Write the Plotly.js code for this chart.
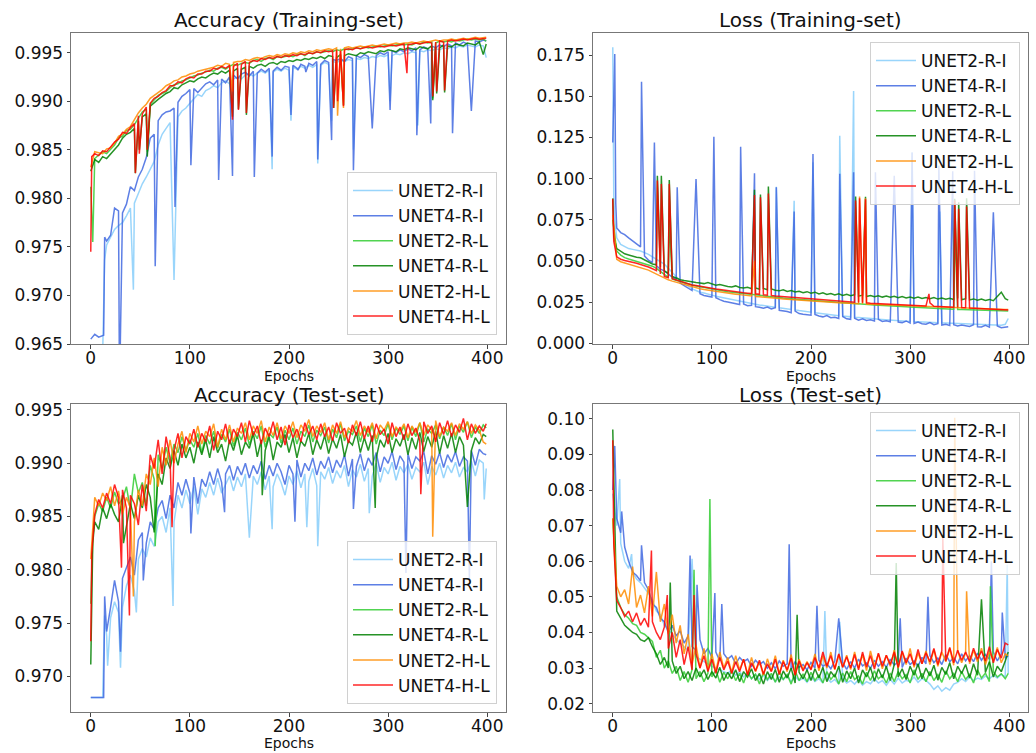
<!DOCTYPE html>
<html>
<head>
<meta charset="utf-8">
<script src="https://cdn.plot.ly/plotly-3.0.1.min.js"></script>
<style>
  html, body { margin: 0; padding: 0; background: #fff; }
  #chart { width: 1036px; height: 753px; }
</style>
</head>
<body>
<div id="chart"></div>
<script>
// Sampled epochs (every 4th epoch plus the last one)
const EPOCHS = [0,4,8,12,16,20,24,28,32,36,40,44,48,52,56,60,64,68,72,76,80,84,88,92,96,100,104,108,112,116,120,124,128,132,136,140,144,148,152,156,160,164,168,172,176,180,184,188,192,196,200,204,208,212,216,220,224,228,232,236,240,244,248,252,256,260,264,268,272,276,280,284,288,292,296,300,304,308,312,316,320,324,328,332,336,340,344,348,352,356,360,364,368,372,376,380,384,388,392,396,399];

const MODELS = ['UNET2-R-I','UNET4-R-I','UNET2-R-L','UNET4-R-L','UNET2-H-L','UNET4-H-L'];
const COLORS = ['#87CEFA','#4169E1','#32CD32','#008000','#FF8C00','#FF0000'];

// ---------- Accuracy (Training-set) ----------
const accTrain_U2RI = [.9620,.9630,.9635,.9640,.9752,.9760,.9768,.9772,.9775,.9782,
.9790,.9795,.9805,.9815,.9822,.9830,.9838,.9855,.9866,.9872,
.9878,.9875,.9884,.9890,.9893,.9898,.9903,.9907,.9905,.9911,
.9913,.9916,.9914,.9919,.9921,.9918,.9923,.9925,.9923,.9927,
.9928,.9926,.9929,.9931,.9929,.9932,.9930,.9933,.9931,.9934,
.9932,.9935,.9933,.9936,.9934,.9937,.9935,.9938,.9937,.9940,
.9938,.9941,.9940,.9942,.9941,.9943,.9942,.9944,.9943,.9945,
.9944,.9946,.9945,.9947,.9946,.9948,.9947,.9949,.9948,.9950,
.9949,.9951,.9950,.9952,.9951,.9953,.9952,.9954,.9953,.9955,
.9954,.9956,.9955,.9957,.9956,.9958,.9957,.9956,.9958,.9957,.9945];
const accTrain_U4RI = [.9655,.9660,.9657,.9659,.9756,.9762,.9790,.9787,.9785,.9794,
.9812,.9808,.9822,.9830,.9842,.9862,.9866,.9880,.9886,.9889,
.9890,.9893,.9899,.9905,.9908,.9912,.9913,.9909,.9914,.9918,
.9920,.9917,.9922,.9923,.9919,.9925,.9927,.9923,.9928,.9930,
.9926,.9931,.9929,.9933,.9930,.9934,.9931,.9935,.9932,.9936,
.9935,.9937,.9934,.9938,.9936,.9939,.9937,.9941,.9938,.9942,
.9940,.9943,.9942,.9944,.9941,.9946,.9944,.9947,.9945,.9948,
.9946,.9949,.9947,.9950,.9948,.9951,.9952,.9950,.9953,.9951,
.9954,.9952,.9955,.9953,.9956,.9954,.9957,.9955,.9958,.9956,
.9959,.9957,.9960,.9958,.9961,.9959,.9960,.9962,.9961,.9963,.9962];
const accTrain_U2RL = [.9812,.9841,.9845,.9848,.9846,.9851,.9855,.9862,.9864,.9870,
.9871,.9876,.9882,.9889,.9892,.9897,.9901,.9906,.9908,.9910,
.9914,.9917,.9918,.9921,.9922,.9924,.9926,.9927,.9929,.9930,
.9932,.9931,.9934,.9935,.9933,.9936,.9938,.9937,.9939,.9940,
.9939,.9942,.9943,.9941,.9944,.9945,.9943,.9946,.9945,.9946,
.9947,.9946,.9948,.9949,.9947,.9950,.9949,.9951,.9950,.9951,
.9952,.9951,.9953,.9952,.9954,.9953,.9954,.9955,.9954,.9956,
.9955,.9956,.9957,.9956,.9957,.9958,.9957,.9958,.9959,.9958,
.9959,.9958,.9960,.9959,.9961,.9960,.9961,.9960,.9962,.9961,
.9962,.9961,.9963,.9962,.9963,.9964,.9963,.9964,.9963,.9964,.9962];
const accTrain_U4RL = [.9828,.9840,.9837,.9843,.9841,.9846,.9850,.9855,.9862,.9866,
.9868,.9872,.9880,.9884,.9887,.9895,.9899,.9902,.9905,.9908,
.9910,.9914,.9913,.9917,.9919,.9921,.9920,.9923,.9925,.9924,
.9927,.9929,.9928,.9931,.9929,.9932,.9931,.9934,.9933,.9935,
.9936,.9934,.9937,.9938,.9936,.9939,.9940,.9938,.9941,.9940,
.9942,.9941,.9943,.9942,.9944,.9943,.9945,.9944,.9946,.9944,
.9947,.9946,.9945,.9948,.9947,.9949,.9948,.9947,.9950,.9949,
.9951,.9950,.9949,.9952,.9951,.9953,.9952,.9951,.9954,.9953,
.9955,.9954,.9953,.9956,.9955,.9954,.9957,.9956,.9955,.9958,
.9957,.9956,.9959,.9958,.9957,.9960,.9959,.9958,.9961,.9948,.9959];
const accTrain_U2HL = [.9832,.9848,.9847,.9846,.9851,.9852,.9857,.9864,.9866,.9871,
.9874,.9881,.9888,.9893,.9897,.9903,.9906,.9909,.9912,.9916,
.9918,.9921,.9922,.9925,.9926,.9928,.9929,.9931,.9932,.9933,
.9934,.9935,.9937,.9936,.9939,.9938,.9940,.9941,.9941,.9943,
.9942,.9944,.9945,.9944,.9946,.9947,.9946,.9948,.9947,.9949,
.9948,.9950,.9949,.9951,.9950,.9952,.9951,.9953,.9952,.9953,
.9954,.9953,.9955,.9954,.9955,.9956,.9955,.9956,.9957,.9956,
.9957,.9958,.9957,.9958,.9959,.9958,.9959,.9960,.9959,.9960,
.9960,.9961,.9960,.9961,.9962,.9961,.9962,.9963,.9962,.9963,
.9963,.9964,.9963,.9964,.9965,.9964,.9965,.9966,.9965,.9966,.9966];
const accTrain_U4HL = [.9745,.9846,.9844,.9849,.9848,.9853,.9858,.9861,.9868,.9867,
.9873,.9877,.9885,.9887,.9894,.9898,.9903,.9905,.9909,.9911,
.9916,.9916,.9920,.9919,.9923,.9925,.9924,.9928,.9928,.9931,
.9931,.9934,.9933,.9936,.9934,.9937,.9936,.9939,.9938,.9941,
.9940,.9942,.9941,.9944,.9943,.9945,.9944,.9946,.9945,.9947,
.9946,.9948,.9947,.9949,.9948,.9950,.9949,.9951,.9950,.9952,
.9951,.9952,.9953,.9952,.9953,.9954,.9953,.9955,.9954,.9955,
.9956,.9955,.9956,.9957,.9956,.9957,.9958,.9957,.9958,.9959,
.9958,.9959,.9960,.9959,.9960,.9961,.9960,.9961,.9962,.9961,
.9962,.9963,.9962,.9963,.9964,.9963,.9964,.9965,.9964,.9965,.9965];
// single-epoch events [epoch, value]
const accTrainEv_U2RI = [[14,.9737],[43,.9706],[84,.9716],[183,.9830],[202,.9880],[229,.9836],[243,.9880],[265,.9850],[302,.9900],[330,.9875]];
const accTrainEv_U4RI = [[13,.9659],[14,.9760],[29,.9600],[65,.9730],[85,.9791],[101,.9834],[129,.9819],[143,.9823],[165,.9822],[183,.9843],[202,.9886],[209,.9932],[217,.9930],[229,.9840],[243,.9860],[265,.9829],[284,.9872],[302,.9891],[329,.9865],[343,.9877],[365,.9867],[384,.9890]];
const accTrainEv_U2RL = [[2,.9755],[57,.9848],[345,.9903]];
const accTrainEv_U4RL = [[45,.9826],[49,.9850],[57,.9843],[143,.9884],[149,.9892],[157,.9886],[245,.9893],[255,.9896],[345,.9901],[349,.9908],[357,.9909]];
const accTrainEv_U2HL = [[143,.9910],[249,.9885],[255,.9893]];
const accTrainEv_U4HL = [[1,.9843],[45,.9826],[49,.9846],[57,.9850],[143,.9881],[149,.9891],[157,.9888],[245,.9893],[249,.9900],[255,.9895],[319,.9929],[345,.9905],[349,.9910],[357,.9911]];

// ---------- Loss (Training-set) ----------
const lossTrain_U2RI = [.1799,.0640,.0600,.0585,.0575,.0570,.0565,.0560,.0550,.0540,
.0525,.0510,.0495,.0480,.0455,.0430,.0410,.0380,.0365,.0345,
.0330,.0320,.0310,.0305,.0300,.0292,.0285,.0280,.0272,.0268,
.0262,.0258,.0252,.0248,.0245,.0240,.0236,.0232,.0230,.0226,
.0222,.0218,.0215,.0212,.0208,.0205,.0202,.0198,.0196,.0192,
.0188,.0185,.0182,.0178,.0176,.0172,.0170,.0167,.0165,.0162,
.0160,.0158,.0156,.0153,.0151,.0150,.0148,.0146,.0144,.0142,
.0140,.0138,.0137,.0135,.0134,.0132,.0131,.0130,.0128,.0127,
.0126,.0125,.0124,.0123,.0122,.0121,.0120,.0119,.0118,.0117,
.0116,.0115,.0114,.0113,.0112,.0111,.0110,.0110,.0109,.0115,.0150];
const lossTrain_U4RI = [.1220,.0700,.0672,.0660,.0640,.0620,.0600,.0585,.0530,.0505,
.0490,.0470,.0450,.0440,.0420,.0400,.0385,.0365,.0350,.0335,
.0320,.0312,.0300,.0290,.0285,.0280,.0276,.0265,.0255,.0250,
.0245,.0240,.0235,.0238,.0228,.0230,.0222,.0218,.0212,.0220,
.0208,.0215,.0200,.0198,.0192,.0185,.0195,.0180,.0176,.0172,
.0170,.0175,.0165,.0160,.0168,.0155,.0158,.0150,.0162,.0148,
.0145,.0152,.0140,.0148,.0138,.0142,.0135,.0145,.0132,.0136,
.0130,.0138,.0128,.0125,.0135,.0122,.0120,.0128,.0118,.0115,
.0125,.0112,.0118,.0110,.0115,.0108,.0112,.0105,.0110,.0108,
.0102,.0112,.0100,.0098,.0108,.0097,.0095,.0105,.0094,.0096,.0100];
const lossTrain_U2RL = [.0750,.0560,.0535,.0520,.0512,.0505,.0497,.0490,.0483,.0476,
.0468,.0455,.0435,.0415,.0400,.0390,.0382,.0374,.0368,.0360,
.0353,.0348,.0343,.0338,.0333,.0329,.0325,.0321,.0317,.0313,
.0310,.0306,.0303,.0300,.0297,.0294,.0291,.0289,.0286,.0284,
.0281,.0279,.0277,.0274,.0272,.0270,.0268,.0266,.0264,.0262,
.0260,.0258,.0256,.0254,.0252,.0250,.0249,.0247,.0245,.0243,
.0242,.0240,.0238,.0237,.0235,.0234,.0232,.0231,.0229,.0228,
.0226,.0225,.0224,.0222,.0221,.0220,.0218,.0217,.0216,.0215,
.0213,.0212,.0211,.0210,.0208,.0207,.0206,.0205,.0204,.0203,
.0202,.0201,.0200,.0199,.0198,.0197,.0196,.0195,.0194,.0193,.0195];
const lossTrain_U4RL = [.0880,.0575,.0560,.0543,.0536,.0528,.0522,.0519,.0505,.0492,
.0481,.0476,.0462,.0440,.0424,.0405,.0396,.0386,.0381,.0376,
.0373,.0369,.0366,.0362,.0368,.0361,.0352,.0356,.0349,.0345,
.0342,.0348,.0338,.0335,.0340,.0331,.0336,.0328,.0333,.0325,
.0330,.0322,.0318,.0325,.0314,.0320,.0311,.0316,.0307,.0313,
.0304,.0310,.0299,.0306,.0296,.0302,.0293,.0300,.0290,.0297,
.0288,.0295,.0286,.0292,.0284,.0290,.0282,.0288,.0280,.0286,
.0279,.0285,.0276,.0283,.0275,.0281,.0273,.0280,.0272,.0278,
.0270,.0277,.0268,.0275,.0267,.0273,.0265,.0272,.0264,.0270,
.0263,.0269,.0261,.0268,.0260,.0266,.0258,.0285,.0310,.0270,.0262];
const lossTrain_U2HL = [.0780,.0510,.0495,.0488,.0480,.0473,.0466,.0459,.0452,.0444,
.0432,.0420,.0406,.0395,.0385,.0377,.0370,.0362,.0355,.0348,
.0341,.0336,.0331,.0326,.0322,.0318,.0314,.0311,.0307,.0304,
.0301,.0298,.0295,.0292,.0289,.0287,.0284,.0282,.0279,.0277,
.0275,.0273,.0271,.0269,.0267,.0265,.0263,.0261,.0260,.0258,
.0256,.0255,.0253,.0252,.0250,.0249,.0247,.0246,.0245,.0243,
.0242,.0241,.0240,.0238,.0237,.0236,.0235,.0234,.0233,.0232,
.0231,.0230,.0229,.0228,.0227,.0226,.0225,.0224,.0223,.0222,
.0221,.0220,.0219,.0218,.0217,.0216,.0215,.0214,.0213,.0213,
.0212,.0211,.0210,.0210,.0209,.0208,.0207,.0207,.0206,.0205,.0205];
const lossTrain_U4HL = [.0877,.0525,.0510,.0503,.0498,.0492,.0486,.0478,.0471,.0463,
.0452,.0441,.0420,.0405,.0398,.0392,.0384,.0376,.0368,.0361,
.0354,.0350,.0345,.0341,.0336,.0333,.0329,.0326,.0322,.0318,
.0315,.0312,.0309,.0306,.0304,.0302,.0300,.0297,.0294,.0292,
.0290,.0287,.0286,.0283,.0281,.0279,.0277,.0275,.0273,.0271,
.0268,.0266,.0264,.0263,.0261,.0259,.0257,.0255,.0254,.0252,
.0251,.0249,.0247,.0246,.0245,.0243,.0242,.0241,.0239,.0238,
.0236,.0235,.0234,.0232,.0231,.0230,.0229,.0228,.0227,.0226,
.0245,.0224,.0223,.0221,.0220,.0219,.0218,.0217,.0216,.0215,
.0214,.0213,.0212,.0210,.0209,.0208,.0207,.0205,.0204,.0203,.0201];
const lossTrainEv_U2RI = [[1,.0900],[2,.0750],[165,.0950],[183,.0866],[202,.1100],[229,.1260],[243,.1532],[302,.1160],[330,.0800]];
const lossTrainEv_U4RI = [[2,.1758],[3,.0850],[29,.1589],[42,.1220],[65,.0948],[84,.0998],[102,.1254],[129,.1194],[143,.1032],[165,.0948],[183,.0800],[202,.1150],[229,.1030],[243,.1038],[265,.1038],[284,.1018],[302,.1159],[329,.1079],[343,.1045],[365,.1048],[384,.0796]];
const lossTrainEv_U2RL = [[57,.0750],[345,.0700]];
const lossTrainEv_U4RL = [[1,.0650],[45,.1018],[49,.1018],[57,.0992],[143,.0932],[149,.0904],[157,.0952],[245,.0891],[255,.0890],[345,.0877],[349,.0857],[357,.0880]];
const lossTrainEv_U2HL = [[143,.0500],[249,.0891],[255,.0880]];
const lossTrainEv_U4HL = [[1,.0620],[45,.0988],[49,.0968],[57,.0968],[143,.0900],[149,.0887],[157,.0910],[245,.0867],[249,.0880],[255,.0875],[319,.0300],[345,.0867],[349,.0817],[357,.0830]];

// ---------- Accuracy (Test-set) ----------
const accTest_U2RI = [.9680,.9680,.9680,.9680,.9738,.9755,.9770,.9760,.9765,.9785,
.9795,.9780,.9810,.9820,.9812,.9830,.9822,.9845,.9850,.9835,
.9858,.9845,.9870,.9858,.9875,.9862,.9878,.9852,.9876,.9868,
.9882,.9870,.9886,.9872,.9880,.9888,.9874,.9887,.9878,.9890,
.9876,.9888,.9880,.9892,.9875,.9888,.9878,.9890,.9882,.9870,
.9888,.9880,.9893,.9877,.9890,.9883,.9895,.9879,.9892,.9885,
.9896,.9881,.9893,.9886,.9898,.9878,.9894,.9887,.9899,.9883,
.9895,.9888,.9900,.9882,.9896,.9890,.9901,.9884,.9897,.9891,
.9899,.9885,.9896,.9892,.9901,.9880,.9897,.9889,.9900,.9886,
.9898,.9891,.9901,.9887,.9896,.9892,.9902,.9888,.9903,.9900,.9895];
const accTest_U4RI = [.9680,.9680,.9680,.9680,.9742,.9765,.9790,.9770,.9792,.9803,
.9812,.9795,.9828,.9835,.9825,.9845,.9838,.9858,.9865,.9848,
.9870,.9858,.9882,.9870,.9885,.9872,.9887,.9862,.9885,.9878,
.9892,.9880,.9895,.9882,.9890,.9898,.9884,.9897,.9889,.9900,
.9886,.9898,.9890,.9902,.9885,.9898,.9888,.9900,.9892,.9880,
.9898,.9890,.9903,.9887,.9900,.9893,.9905,.9889,.9902,.9895,
.9906,.9891,.9903,.9896,.9908,.9888,.9904,.9897,.9909,.9893,
.9905,.9898,.9910,.9892,.9906,.9900,.9911,.9894,.9907,.9901,
.9909,.9895,.9906,.9902,.9911,.9890,.9907,.9899,.9910,.9896,
.9908,.9901,.9911,.9897,.9906,.9902,.9912,.9898,.9913,.9909,.9908];
const accTest_U2RL = [.9768,.9850,.9862,.9855,.9868,.9858,.9873,.9862,.9866,.9878,
.9856,.9890,.9872,.9882,.9860,.9898,.9885,.9908,.9895,.9915,
.9900,.9918,.9910,.9925,.9912,.9922,.9915,.9928,.9910,.9926,
.9918,.9930,.9914,.9927,.9920,.9932,.9916,.9929,.9922,.9933,
.9917,.9930,.9923,.9935,.9915,.9928,.9924,.9934,.9919,.9931,
.9922,.9933,.9918,.9930,.9925,.9936,.9920,.9931,.9926,.9934,
.9919,.9932,.9924,.9937,.9921,.9930,.9927,.9935,.9920,.9933,
.9925,.9936,.9918,.9931,.9926,.9937,.9922,.9933,.9927,.9935,
.9921,.9934,.9925,.9938,.9920,.9932,.9928,.9936,.9923,.9934,
.9926,.9937,.9922,.9935,.9929,.9939,.9924,.9934,.9928,.9936,.9933];
const accTest_U4RL = [.9711,.9845,.9838,.9858,.9848,.9862,.9852,.9845,.9870,.9840,
.9862,.9848,.9870,.9858,.9880,.9868,.9835,.9890,.9880,.9905,
.9895,.9912,.9898,.9918,.9905,.9915,.9900,.9920,.9908,.9922,
.9905,.9925,.9910,.9918,.9902,.9922,.9912,.9926,.9908,.9920,
.9914,.9928,.9906,.9922,.9912,.9925,.9903,.9920,.9915,.9927,
.9910,.9924,.9905,.9921,.9916,.9928,.9908,.9922,.9913,.9926,
.9909,.9923,.9914,.9927,.9906,.9921,.9917,.9929,.9910,.9924,
.9912,.9926,.9905,.9922,.9915,.9928,.9910,.9923,.9916,.9927,
.9908,.9924,.9913,.9929,.9911,.9925,.9915,.9930,.9909,.9926,
.9914,.9928,.9910,.9925,.9917,.9931,.9912,.9924,.9918,.9927,.9925];
const accTest_U2HL = [.9810,.9868,.9860,.9872,.9865,.9878,.9860,.9874,.9852,.9868,
.9858,.9845,.9875,.9860,.9890,.9880,.9905,.9878,.9915,.9898,
.9922,.9900,.9918,.9930,.9910,.9928,.9920,.9935,.9918,.9930,
.9925,.9937,.9915,.9932,.9922,.9936,.9920,.9933,.9928,.9938,
.9922,.9935,.9928,.9940,.9920,.9934,.9926,.9938,.9923,.9935,
.9928,.9939,.9924,.9936,.9930,.9941,.9925,.9935,.9929,.9938,
.9922,.9936,.9928,.9939,.9924,.9933,.9930,.9940,.9926,.9935,
.9929,.9938,.9923,.9936,.9931,.9939,.9925,.9934,.9930,.9937,
.9924,.9935,.9929,.9938,.9926,.9936,.9931,.9940,.9925,.9934,
.9930,.9938,.9926,.9937,.9932,.9939,.9928,.9936,.9931,.9920,.9918];
const accTest_U4HL = [.9733,.9852,.9866,.9858,.9872,.9862,.9880,.9868,.9875,.9858,
.9870,.9862,.9842,.9880,.9855,.9908,.9895,.9922,.9890,.9925,
.9905,.9912,.9928,.9905,.9925,.9918,.9932,.9915,.9928,.9920,
.9935,.9912,.9930,.9922,.9937,.9918,.9932,.9925,.9938,.9920,
.9940,.9926,.9935,.9918,.9933,.9925,.9939,.9922,.9934,.9917,
.9936,.9924,.9932,.9920,.9938,.9927,.9935,.9922,.9937,.9925,
.9934,.9921,.9938,.9928,.9933,.9919,.9936,.9926,.9939,.9923,
.9935,.9920,.9937,.9927,.9932,.9918,.9938,.9925,.9934,.9922,
.9937,.9926,.9933,.9921,.9939,.9928,.9935,.9920,.9938,.9927,
.9940,.9925,.9936,.9929,.9942,.9922,.9937,.9928,.9935,.9930,.9937];
const accTestEv_U2RI = [[14,.9757],[17,.9710],[30,.9708],[46,.9760],[83,.9766],[160,.9830],[183,.9838],[218,.9840],[229,.9822],[281,.9853],[397,.9866]];
const accTestEv_U4RI = [[13,.9680],[14,.9775],[30,.9723],[53,.9790],[101,.9834],[135,.9854],[206,.9845],[265,.9857],[318,.9797],[382,.9791]];
const accTestEv_U2RL = [[2,.9830],[65,.9822]];
const accTestEv_U4RL = [[2,.9825],[33,.9825],[173,.9870],[287,.9858],[380,.9859]];
const accTestEv_U2HL = [[43,.9775],[345,.9831]];
const accTestEv_U4HL = [[1,.9815],[31,.9802],[39,.9757],[82,.9840],[333,.9871]];

// ---------- Loss (Test-set) ----------
const lossTest_U2RI = [.0790,.0700,.0650,.0600,.0580,.0570,.0550,.0540,.0525,.0510,
.0490,.0460,.0450,.0420,.0410,.0395,.0380,.0370,.0360,.0350,
.0340,.0332,.0325,.0318,.0310,.0305,.0300,.0295,.0290,.0285,
.0295,.0280,.0290,.0275,.0285,.0270,.0282,.0268,.0280,.0265,
.0278,.0262,.0275,.0268,.0280,.0262,.0276,.0265,.0272,.0260,
.0275,.0262,.0270,.0258,.0272,.0260,.0268,.0255,.0270,.0258,
.0265,.0255,.0268,.0252,.0262,.0256,.0270,.0258,.0265,.0252,
.0268,.0255,.0272,.0258,.0266,.0262,.0275,.0260,.0270,.0265,
.0255,.0240,.0250,.0235,.0245,.0238,.0255,.0260,.0270,.0262,
.0275,.0265,.0272,.0268,.0278,.0270,.0280,.0272,.0282,.0275,.0285];
const lossTest_U4RI = [.0800,.0720,.0680,.0640,.0600,.0570,.0560,.0545,.0540,.0520,
.0480,.0470,.0440,.0430,.0400,.0420,.0390,.0405,.0370,.0390,
.0360,.0350,.0380,.0340,.0355,.0330,.0345,.0320,.0340,.0325,
.0335,.0312,.0330,.0318,.0325,.0305,.0322,.0310,.0318,.0300,
.0315,.0298,.0320,.0305,.0312,.0296,.0318,.0302,.0310,.0295,
.0316,.0300,.0322,.0305,.0312,.0298,.0320,.0302,.0315,.0296,
.0318,.0300,.0325,.0306,.0314,.0299,.0322,.0305,.0318,.0302,
.0325,.0308,.0318,.0302,.0328,.0310,.0320,.0305,.0330,.0312,
.0335,.0315,.0328,.0310,.0338,.0318,.0330,.0312,.0340,.0320,
.0335,.0318,.0342,.0322,.0338,.0325,.0345,.0320,.0340,.0328,.0335];
const lossTest_U2RL = [.0720,.0500,.0470,.0450,.0440,.0425,.0420,.0400,.0395,.0385,
.0375,.0330,.0350,.0300,.0320,.0285,.0305,.0265,.0290,.0260,
.0295,.0270,.0290,.0262,.0285,.0275,.0295,.0260,.0288,.0270,
.0292,.0265,.0285,.0258,.0290,.0270,.0283,.0255,.0288,.0268,
.0285,.0260,.0290,.0268,.0282,.0255,.0292,.0265,.0284,.0262,
.0288,.0265,.0280,.0258,.0290,.0268,.0282,.0255,.0286,.0262,
.0290,.0268,.0278,.0255,.0288,.0265,.0292,.0270,.0280,.0258,
.0286,.0262,.0290,.0270,.0282,.0258,.0295,.0268,.0285,.0262,
.0290,.0265,.0282,.0260,.0292,.0270,.0285,.0262,.0290,.0268,
.0282,.0258,.0295,.0272,.0286,.0262,.0290,.0275,.0284,.0270,.0285];
const lossTest_U4RL = [.0970,.0460,.0440,.0420,.0410,.0400,.0395,.0380,.0375,.0385,
.0360,.0340,.0310,.0330,.0300,.0320,.0285,.0305,.0270,.0290,
.0265,.0300,.0275,.0295,.0268,.0290,.0272,.0302,.0265,.0288,
.0270,.0295,.0262,.0290,.0275,.0298,.0265,.0285,.0255,.0290,
.0268,.0296,.0260,.0292,.0272,.0300,.0258,.0288,.0270,.0295,
.0265,.0298,.0272,.0302,.0262,.0290,.0275,.0305,.0260,.0292,
.0270,.0300,.0258,.0295,.0275,.0302,.0263,.0298,.0272,.0305,
.0265,.0310,.0275,.0298,.0268,.0305,.0280,.0312,.0270,.0300,
.0278,.0308,.0266,.0302,.0282,.0315,.0270,.0305,.0285,.0310,
.0272,.0312,.0280,.0298,.0288,.0318,.0275,.0305,.0290,.0320,.0345];
const lossTest_U2HL = [.0720,.0530,.0500,.0520,.0480,.0585,.0470,.0505,.0455,.0530,
.0445,.0570,.0430,.0480,.0395,.0450,.0370,.0420,.0340,.0395,
.0310,.0365,.0300,.0355,.0295,.0340,.0290,.0345,.0300,.0330,
.0288,.0335,.0295,.0325,.0283,.0330,.0290,.0318,.0280,.0326,
.0292,.0335,.0285,.0322,.0290,.0338,.0282,.0325,.0296,.0318,
.0298,.0340,.0292,.0335,.0300,.0345,.0295,.0338,.0302,.0336,
.0296,.0345,.0300,.0338,.0293,.0348,.0305,.0340,.0298,.0336,
.0305,.0350,.0300,.0345,.0310,.0355,.0302,.0342,.0312,.0348,
.0310,.0352,.0305,.0345,.0318,.0355,.0308,.0348,.0315,.0342,
.0312,.0350,.0318,.0356,.0310,.0345,.0322,.0358,.0315,.0340,.0335];
const lossTest_U4HL = [.0940,.0490,.0470,.0445,.0460,.0430,.0455,.0420,.0440,.0415,
.0430,.0400,.0380,.0415,.0355,.0400,.0330,.0380,.0310,.0360,
.0295,.0340,.0300,.0335,.0290,.0325,.0285,.0330,.0295,.0320,
.0285,.0318,.0290,.0325,.0280,.0315,.0292,.0322,.0283,.0312,
.0290,.0325,.0282,.0318,.0295,.0328,.0280,.0320,.0292,.0315,
.0295,.0330,.0300,.0345,.0305,.0335,.0298,.0340,.0302,.0332,
.0300,.0338,.0295,.0345,.0303,.0335,.0297,.0342,.0305,.0336,
.0310,.0345,.0302,.0348,.0315,.0340,.0308,.0352,.0312,.0343,
.0318,.0355,.0310,.0348,.0320,.0358,.0315,.0350,.0322,.0345,
.0318,.0356,.0325,.0348,.0320,.0360,.0315,.0352,.0328,.0370,.0365];
const lossTestEv_U2RI = [[7,.0831],[19,.0620],[80,.0607],[214,.0460],[229,.0430],[398,.0590]];
const lossTestEv_U4RI = [[2,.0924],[9,.0740],[29,.0645],[78,.0616],[85,.0534],[103,.0511],[110,.0480],[178,.0648],[206,.0475],[228,.0440],[290,.0440],[318,.0500],[382,.0600],[393,.0456]];
const lossTestEv_U2RL = [[82,.0576],[98,.0775],[381,.0530]];
const lossTestEv_U4RL = [[58,.0540],[186,.0450],[286,.0595],[372,.0493]];
const lossTestEv_U2HL = [[345,.1003],[357,.0516]];
const lossTestEv_U4HL = [[1,.0650],[39,.0630],[55,.0505],[82,.0505],[333,.0669]];

// Combine sampled values with single-epoch events, ordered by epoch
function curve(base, events) {
  const evEpochs = new Set(events.map(p => p[0]));
  const pts = EPOCHS.map((e, i) => [e, base[i]])
    .filter(p => !evEpochs.has(p[0]))
    .concat(events)
    .sort((a, b) => a[0] - b[0]);
  return { x: pts.map(p => p[0]), y: pts.map(p => p[1]) };
}

const panels = [
  { xa: 'x',  ya: 'y',  lg: 'legend',
    base: [accTrain_U2RI, accTrain_U4RI, accTrain_U2RL, accTrain_U4RL, accTrain_U2HL, accTrain_U4HL],
    ev:   [accTrainEv_U2RI, accTrainEv_U4RI, accTrainEv_U2RL, accTrainEv_U4RL, accTrainEv_U2HL, accTrainEv_U4HL] },
  { xa: 'x2', ya: 'y2', lg: 'legend2',
    base: [lossTrain_U2RI, lossTrain_U4RI, lossTrain_U2RL, lossTrain_U4RL, lossTrain_U2HL, lossTrain_U4HL],
    ev:   [lossTrainEv_U2RI, lossTrainEv_U4RI, lossTrainEv_U2RL, lossTrainEv_U4RL, lossTrainEv_U2HL, lossTrainEv_U4HL] },
  { xa: 'x3', ya: 'y3', lg: 'legend3',
    base: [accTest_U2RI, accTest_U4RI, accTest_U2RL, accTest_U4RL, accTest_U2HL, accTest_U4HL],
    ev:   [accTestEv_U2RI, accTestEv_U4RI, accTestEv_U2RL, accTestEv_U4RL, accTestEv_U2HL, accTestEv_U4HL] },
  { xa: 'x4', ya: 'y4', lg: 'legend4',
    base: [lossTest_U2RI, lossTest_U4RI, lossTest_U2RL, lossTest_U4RL, lossTest_U2HL, lossTest_U4HL],
    ev:   [lossTestEv_U2RI, lossTestEv_U4RI, lossTestEv_U2RL, lossTestEv_U4RL, lossTestEv_U2HL, lossTestEv_U4HL] }
];

const traces = [];
panels.forEach(p => {
  MODELS.forEach((name, k) => {
    const c = curve(p.base[k], p.ev[k]);
    traces.push({
      type: 'scatter', mode: 'lines', name: name,
      x: c.x, y: c.y, xaxis: p.xa, yaxis: p.ya, legend: p.lg,
      legendgroup: p.lg + '_' + k,
      line: { color: COLORS[k], width: 1.5 },
      opacity: 0.85
    });
  });
});

const FONT = 'DejaVu Sans, Liberation Sans, sans-serif';
const W = 1036, H = 753;
const colL = [71 / W, 506 / W], colR = [593 / W, 1028 / W];
const rowT = [1 - 344 / H, 1 - 33 / H], rowB = [1 - 712 / H, 1 - 404 / H];

function xAxis(domain, anchor) {
  return {
    domain: domain, anchor: anchor, range: [-19.95, 418.95],
    tickvals: [0, 100, 200, 300, 400], ticks: 'outside', ticklen: 3.5, tickwidth: 1, tickcolor: '#444',
    ticklabelstandoff: -5,
    showline: true, mirror: true, linecolor: '#777', linewidth: 1,
    showgrid: false, zeroline: false,
    tickfont: { family: FONT, size: 17, color: '#111' }
  };
}
function yAxis(domain, anchor, range, tick0, dtick, fmt) {
  return {
    domain: domain, anchor: anchor, range: range, tick0: tick0, dtick: dtick, tickformat: fmt,
    ticks: 'outside', ticklen: 3.5, tickwidth: 1, tickcolor: '#444',
    showline: true, mirror: true, linecolor: '#777', linewidth: 1,
    showgrid: false, zeroline: false,
    tickfont: { family: FONT, size: 17, color: '#111' }
  };
}
function legendAt(x, y, yanchor) {
  return {
    x: x, y: y, xanchor: 'right', yanchor: yanchor, xref: 'paper', yref: 'paper',
    bgcolor: 'rgba(255,255,255,0.8)', bordercolor: '#d0d0d0', borderwidth: 1,
    font: { family: FONT, size: 17, color: '#111' },
    tracegroupgap: 2, itemwidth: 40, traceorder: 'normal'
  };
}
function label(text, x, y, size) {
  return { text: text, x: x, y: y, xref: 'paper', yref: 'paper', xanchor: 'center', yanchor: 'middle',
           showarrow: false, borderpad: 0, font: { family: FONT, size: size, color: '#111' } };
}

const cxL = (71 + 506) / 2 / W, cxR = (593 + 1028) / 2 / W;
const layout = {
  width: W, height: H,
  margin: { l: 0, r: 0, t: 0, b: 0 },
  paper_bgcolor: '#fff', plot_bgcolor: '#fff',
  font: { family: FONT, color: '#111' },
  xaxis:  xAxis(colL, 'y'),
  yaxis:  yAxis(rowT, 'x',  [0.965, 0.99703], 0.965, 0.005, '.3f'),
  xaxis2: xAxis(colR, 'y2'),
  yaxis2: yAxis(rowT, 'x2', [-0.0005, 0.1885], 0, 0.025, '.3f'),
  xaxis3: xAxis(colL, 'y3'),
  yaxis3: yAxis(rowB, 'x3', [0.96665, 0.99556], 0.965, 0.005, '.3f'),
  xaxis4: xAxis(colR, 'y4'),
  yaxis4: yAxis(rowB, 'x4', [0.01766, 0.10417], 0.02, 0.01, '.2f'),
  legend:  legendAt(497 / W, 1 - 335 / H, 'bottom'),
  legend2: legendAt(1020 / W, 1 - 42 / H, 'top'),
  legend3: legendAt(497 / W, 1 - 704 / H, 'bottom'),
  legend4: legendAt(1020 / W, 1 - 412 / H, 'top'),
  annotations: [
    label('Accuracy (Training-set)', cxL, 1 - 20 / H, 20),
    label('Loss (Training-set)', cxR, 1 - 20 / H, 20),
    label('Accuracy (Test-set)', cxL, 1 - 395 / H, 20),
    label('Loss (Test-set)', cxR, 1 - 395 / H, 20),
    label('Epochs', cxL, 1 - 376 / H, 14),
    label('Epochs', cxR, 1 - 376 / H, 14),
    label('Epochs', cxL, 1 - 743 / H, 14),
    label('Epochs', cxR, 1 - 743 / H, 14)
  ],
  showlegend: true
};

Plotly.newPlot('chart', traces, layout, { displayModeBar: false, staticPlot: true });
</script>
</body>
</html>
